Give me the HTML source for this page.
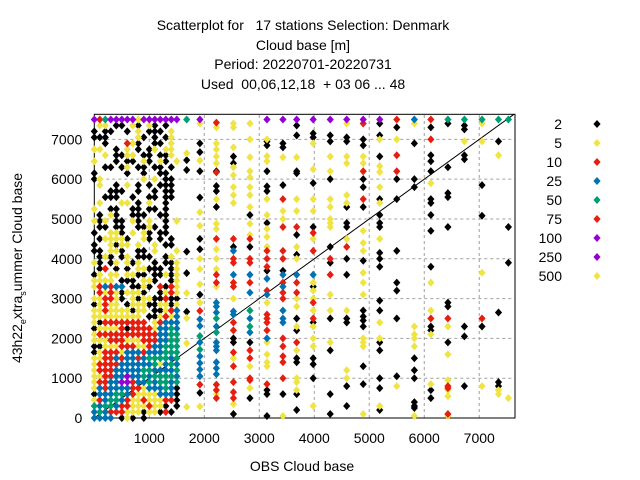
<!DOCTYPE html>
<html><head><meta charset="utf-8"><style>
html,body{margin:0;padding:0;background:#fff;}
svg{display:block;font-family:"Liberation Sans",sans-serif;}
text{white-space:pre;}
</style></head><body>
<svg id="chart" width="640" height="480" viewBox="0 0 640 480">
<g font-size="14" text-anchor="middle" fill="#000">
<text x="303" y="30" xml:space="preserve">Scatterplot for   17 stations Selection: Denmark</text>
<text x="303" y="50">Cloud base [m]</text>
<text x="303" y="69">Period: 20220701-20220731</text>
<text x="303" y="89" xml:space="preserve">Used  00,06,12,18  + 03 06 ... 48</text>
</g>
<text x="302" y="471" font-size="14" text-anchor="middle">OBS Cloud base</text>
<text transform="translate(22,268) rotate(-90)" font-size="14" text-anchor="middle">43h22<tspan font-size="9" dy="4">e</tspan><tspan dy="-4">xtra</tspan><tspan font-size="9" dy="4">s</tspan><tspan dy="-4">ummer Cloud base</tspan></text>
<g id="grid"></g>
<g id="axes"></g>
<g id="marks"></g>
<g id="legend"></g>
</svg>
<script>
const xTicks=[1000,2000,3000,4000,5000,6000,7000];
const yTicks=[0,1000,2000,3000,4000,5000,6000,7000];
const legendLabels=["2","5","10","25","50","75","100","250","500"];
const legendColors=["k","y","r","b","g","r","p","p","y"];
const denseXs=[0,100,200,300,400,500,600,700,800,900,1000,1100,1200,1300,1400,1500];
const denseYs=[7500,7350,7200,7050,6900,6750,6600,6450,6300,6150,6000,5850,5700,5550,5400,5250,5100,4950,4800,4650,4500,4350,4200,4050,3900,3750,3600,3450,3300,3150,3000,2850,2700,2550,2400,2250,2100,1950,1800,1650,1500,1350,1200,1050,900,750,600,450,300,150,0];
const denseRows=[
"prgpppppyppppppp",".yy.kk.yk.yk.k..","k.kk..k.y.kkk.y.","kkk.....yk.k.ky.","..k...ryk..kk.y.",
"yy..k.y.k.ky.yy.","..y.kkyy.kk.kky.","y...k.kk.yk.yk.y","..kk.ky.kk.kk.k.","k.....k..k..kk..",
"ky.......y.y.kk.",".y..k.y.k.k.kkk.","...kkk..k..k.kk.","..kkk..k..kk.kk.",".y...yy.k.y..k..",
"y..kk..kk.kk.k..",".k.yk..kkk..kk..","yky.kk.yk.y..k.y",".kk.kk..kkyk.k..","k..yyk.y.yk.kk..",
".kyyyyk..yk.k.k.","k..ykyy.y..y.kk.","kk.yyk..kk.y...y",".kyk.ky.kkk..ky.","yk.ky.yky..k.kky",
".kr.k.k.yykkk.ky","ky.yy.yykk.kkyky","yyyy.kkk.yyk..ky","yrbrbb.kkyk.rkry",".ryrykyyyk..kyry",
"yyrryk.ykyykkrkk","kyryy.kyyykkyyky","yyryyyykyy.kkyrb","yyyyyyyyy.kkyryb","ykrrrrrrrr.yrbbb",
"kyyyyrkrrrrybbgb","yrrrrrrrrrrrbbgg","yyyrrryyyrrrbbgg","kkyyyrrryyrbbggg","kyrrrybbbrbbbggg",
"yyrrbrbbrbggggbg","yrrrrbbbbbbgybgb","yrrrbbbbbggbbbbg","yyrrbbpbbgbggggb","yrrbbpprbbgbggbg",
"ybrbbbbrrybbbgbk","kbbbggbryyyybbbk","yrbggbryyryyyrrk","gbggbrryyyryyk.k","bgbrrryyykyykrk.",
"bbbb.kyk.k......"];
const sparseXs=[1680,1920,2220,2530,2830,3140,3430,3680,3980,4290,4590,4890,5190,5500,5820,6120,6430,6730,7050,7350,7530];
const sparseCols=[
"g7500 y6650 k6480 k6230 k4180 k3640 y3140 k2670 y2510 y1880 y280",
"p7500 y7400 k6900 k6680 y6470 k6200 k5540 y5170 y4830 k4500 k4240 y4000 y3740 y3360 k3100 y2900 r2690 b2480 b2310 g2060 b1900 g1720 b1550 b1380 b1220 b1050 r840 k630 y290",
"r7420 y7300 y6900 y6750 y6570 y6400 k6200 r6170 k5830 k5700 y5500 k5300 y4880 y4750 r4500 y4240 y4000 y3740 r3600 r3400 y3300 b2900 b2800 b2650 g2500 b2300 g2150 b1900 b1800 b1700 b1400 b1250 b1100 r840 y600 r700 r500",
"y7400 y7300 y6800 k6570 k6400 y6300 y6100 y5800 y5600 y5400 r4500 k4300 b4200 r4000 r3900 b3600 r3400 r3300 y3000 b2680 b2600 r2400 r2200 k2000 k1900 r1650 y1500 r1300 r900 r650 r500 y350 k100",
"y7400 y7000 y6550 y6200 y6050 y5800 y5600 y5300 k5100 y4880 y4600 r4500 k4300 r4000 r3900 b3600 r3400 b3150 g2700 b2500 g2300 b2150 k1900 r1700 r1500 y1300 r1000 r950 y750 k500",
"p7500 y7000 k6950 k6850 y6580 y6450 k6200 k5820 k5700 y5500 y5100 k4900 y4750 y4550 y4300 r4200 r4000 r3800 k3700 b3500 r3200 b3100 y2900 r2600 r2500 r2400 r2200 b2000 y1900 y1600 y1400 y1300 r850 k700 k600 k50",
"p7500 k6900 k6800 y6550 k5850 r5500 y5200 y5000 r4800 r4200 r4000 k3700 b3600 r3400 b3300 r3150 r3000 b2700 b2500 b2400 r2000 r1800 r1550 r1400 r1000 k600 y50",
"p7500 k7350 k7100 y6550 k6200 k6150 y5500 y5200 r4800 k4600 y4300 k4100 y4000 b3600 r3400 r3150 y3000 y2800 k2500 y2300 k2200 r1900 y1700 k1500 k1400 y1000 y900 y700 k600 k200",
"p7500 k7150 k7050 y6900 y6250 k5900 y5500 y5200 k4800 r4650 y4500 r4200 b3600 y3400 k3300 y3200 y3000 r2900 y2700 r2500 k2400 y2300 y2000 y1800 k1500 k1350 k1000 y300",
"p7500 k7100 k6950 y6570 y6200 k6000 y5500 y5300 y5000 y4900 y4800 k4300 r4000 k3900 r3600 y3100 y2700 k2500 y1900 k1700 k600 k100",
"p7500 y7400 k7050 k6950 y6570 y6400 y5600 y5400 k5300 k4900 k4800 y4500 r4300 k4000 k3600 y2700 k2500 k2400 y1200 y1000 k800 k300",
"p7500 r7400 k7000 k6850 y6570 y6400 y6200 r6200 k6000 k5800 r5500 k5300 y4700 y4400 y4200 k3950 y3650 y3400 y3100 k2700 k2550 k2450 k2300 y2000 y1900 y1800 k1300 k850 y100",
"p7500 k7400 k7100 y7000 k6570 y6330 y6180 y5800 k5500 y5400 k5100 k4900 k4800 y4500 k4150 k4000 k3800 k2950 k2700 y2400 y2000 k1900 k1700 k1000 k750 y300 k200",
"r7500 k7300 y7000 r6600 r6200 k6000 k5500 k4200 k3400 k3200 k2500 k1050 y800",
"b7500 y7400 k6900 k6000 k5800 y2300 y2100 y2000 y1800 k1500 k1200 k1000 k400 k300 k250 y50",
"r7500 k7300 r7000 k6600 k6450 k6200 y5900 k5500 k5400 k5100 k4700 k3800 y3400 y2700 r2500 k2300 k2200 y2100 y850 k700 k500",
"g7500 k7400 k6300 k5650 k5550 k4800 k2900 k2800 r2500 y2300 k1900 y1600 y950 r800 r750 y700 y550 r100 y50",
"g7500 k7350 k7250 y6950 k6600 k6500 k2300 k2050 k800",
"g7500 y7400 y6950 k5850 k5080 y3650 r2500 k2300 y800",
"g7500 k6950 y6600 k2650 k900 k800 y700 y600",
"g7500 k4800 k3900 y500"];
const NS="http://www.w3.org/2000/svg";
const X0=94.3,X1=515,Y0=418,Y1=114.3,XMAX=7650,YMAX=7630;
const sx=v=>X0+v*(X1-X0)/XMAX;
const sy=v=>Y0-v*(Y0-Y1)/YMAX;
const COL={k:"#000000",y:"#f0e442",r:"#e51e10",b:"#0072b2",g:"#009e73",p:"#9400d3"};
const ORDER="kyrbgp";
function mk(tag,attrs,parent){const e=document.createElementNS(NS,tag);for(const k in attrs)e.setAttribute(k,attrs[k]);parent.appendChild(e);return e;}
const grid=document.getElementById('grid'),axes=document.getElementById('axes'),marks=document.getElementById('marks'),legend=document.getElementById('legend');
xTicks.forEach(t=>{const l=mk('line',{x1:sx(t),x2:sx(t),y1:Y0,y2:Y1,stroke:'#a0a0a0','stroke-dasharray':'3,3','stroke-width':1},grid);


const tx=mk('text',{x:sx(t),y:Y0+25,'font-size':14,'text-anchor':'middle'},axes);tx.textContent=t;

});
yTicks.forEach(t=>{if(t>0){const l=mk('line',{x1:X0,x2:X1,y1:sy(t),y2:sy(t),stroke:'#a0a0a0','stroke-dasharray':'3,3','stroke-width':1},grid);

}
const tx=mk('text',{x:X0-12,y:sy(t)+5,'font-size':14,'text-anchor':'end'},axes);tx.textContent=t;

});
const pts=[];
denseRows.forEach((row,i)=>{for(let j=0;j<row.length;j++){const c=row[j];if(c!=='.')pts.push([denseXs[j],denseYs[i],c]);}});
sparseCols.forEach((s,i)=>{s.split(' ').forEach(tok=>{pts.push([sparseXs[i],+tok.slice(1),tok[0]]);});});
pts.sort((a,b)=>ORDER.indexOf(a[2])-ORDER.indexOf(b[2]));
pts.forEach(p=>{const x=sx(p[0]),y=sy(p[1]);
const d=mk('path',{d:`M${x} ${y-4}L${x+3.6} ${y}L${x} ${y+4}L${x-3.6} ${y}Z`,fill:COL[p[2]]},marks);

});
const diag=mk('line',{x1:sx(0),y1:sy(0),x2:sx(7630),y2:sy(7630),stroke:'#000','stroke-width':1},axes);


const fr=mk('rect',{x:X0,y:Y1,width:X1-X0,height:Y0-Y1,fill:'none',stroke:'#000','stroke-width':1},axes);


legendLabels.forEach((lab,i)=>{const y=124+i*19;
const t=mk('text',{x:562,y:y+5,'font-size':14,'text-anchor':'end'},legend);t.textContent=lab;


const d=mk('path',{d:`M597 ${y-4}L600.6 ${y}L597 ${y+4}L593.4 ${y}Z`,fill:COL[legendColors[i]]},legend);

});
</script>
</body></html>
